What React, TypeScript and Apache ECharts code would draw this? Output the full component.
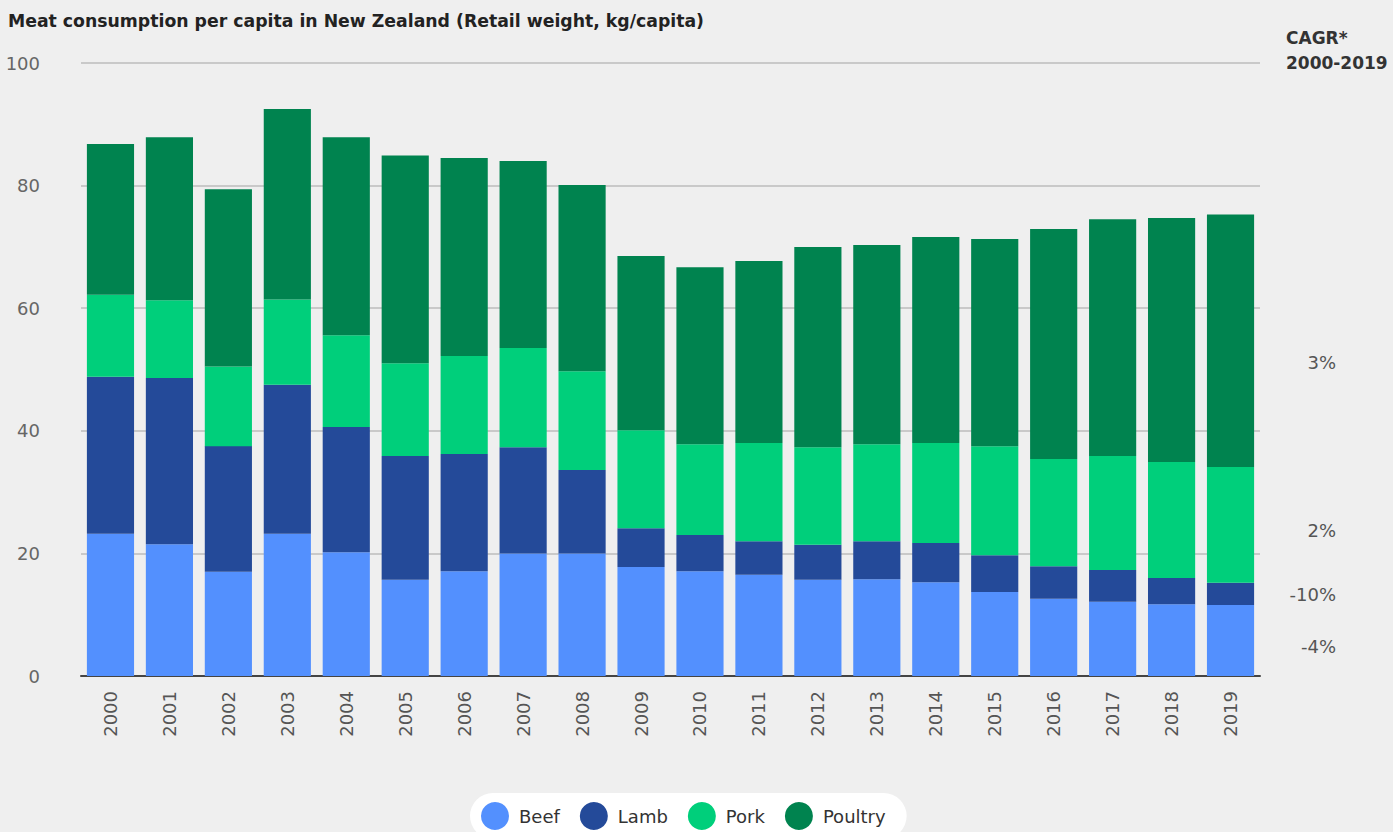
import React, { useEffect, useRef } from "react";
import * as echarts from "echarts";

const years = ["2000","2001","2002","2003","2004","2005","2006","2007","2008","2009","2010","2011","2012","2013","2014","2015","2016","2017","2018","2019"];
const beef = [23.2, 21.5, 17.0, 23.2, 20.2, 15.7, 17.1, 20.0, 20.0, 17.8, 17.1, 16.5, 15.7, 15.8, 15.3, 13.7, 12.6, 12.1, 11.7, 11.6];
const lamb = [25.6, 27.1, 20.5, 24.3, 20.4, 20.2, 19.1, 17.3, 13.6, 6.3, 5.9, 5.5, 5.7, 6.2, 6.4, 6.0, 5.3, 5.2, 4.3, 3.6];
const pork = [13.4, 12.7, 13.0, 13.9, 15.0, 15.1, 16.0, 16.2, 16.1, 16.0, 14.8, 16.0, 15.9, 15.8, 16.3, 17.8, 17.5, 18.6, 18.9, 18.9];
const poultry = [24.6, 26.6, 28.9, 31.1, 32.3, 33.9, 32.3, 30.5, 30.4, 28.4, 28.9, 29.7, 32.7, 32.5, 33.6, 33.8, 37.5, 38.6, 39.8, 41.2];
const seriesNames = ["Beef", "Lamb", "Pork", "Poultry"];
const cagrLabels = ["-4%", "-10%", "2%", "3%"];
const yTicks = [0, 20, 40, 60, 80, 100];

const colors = ["#5390fe", "#244a99", "#00cf7b", "#00834f"];
const FONT = "'DejaVu Sans', sans-serif";

export default function App() {
  const ref = useRef<HTMLDivElement>(null);
  useEffect(() => {
    if (!ref.current) return;
    const chart = echarts.init(ref.current, null, { renderer: "svg" });
    const data = [beef, lamb, pork, poultry];
    const cagrY = [646, 594, 530, 362];
    chart.setOption({
      animation: false,
      backgroundColor: "#efefef",
      textStyle: { fontFamily: FONT },
      grid: { left: 81, right: 133, top: 63, bottom: 156 },
      xAxis: {
        type: "category",
        data: years,
        axisLine: { show: true, lineStyle: { color: "#444", width: 2 } },
        axisTick: { show: false },
        axisLabel: { rotate: 90, color: "#555", fontSize: 18, margin: 15, fontFamily: FONT },
      },
      yAxis: {
        type: "value",
        min: yTicks[0],
        max: yTicks[yTicks.length - 1],
        interval: 20,
        axisLine: { show: false },
        axisTick: { show: false },
        axisLabel: { color: "#666", fontSize: 18, margin: 41, fontFamily: FONT },
        splitLine: { lineStyle: { color: "#c9c9c9", width: 2 } },
      },
      legend: {
        left: 470,
        top: 793,
        icon: "circle",
        itemWidth: 28,
        itemHeight: 28,
        itemGap: 20,
        backgroundColor: "#ffffff",
        borderRadius: 24,
        padding: [9, 21, 9, 11],
        textStyle: { color: "#333", fontSize: 18, fontFamily: FONT, padding: [0, 0, 0, 5] },
        data: seriesNames,
      },
      series: seriesNames.map((name, i) => ({
        name,
        type: "bar",
        stack: "total",
        barCategoryGap: "20%",
        itemStyle: { color: colors[i] },
        data: data[i],
      })),
      graphic: [
        {
          type: "text",
          left: 8,
          top: 12,
          style: { text: "Meat consumption per capita in New Zealand (Retail weight, kg/capita)", fill: "#222", font: `bold 17.3px ${FONT}` },
        },
        {
          type: "text",
          left: 1286,
          top: 25,
          style: { text: "CAGR*\n2000-2019", fill: "#333", font: `bold 17px ${FONT}`, lineHeight: 25 },
        },
        ...cagrLabels.map((t, i) => ({
          type: "text",
          x: 1336,
          y: cagrY[i],
          style: { text: t, fill: "#555", font: `18px ${FONT}`, align: "right", verticalAlign: "middle" },
        })),
      ],
    });
    return () => chart.dispose();
  }, []);
  return <div ref={ref} style={{ position: "fixed", left: 0, top: 0, width: 1393, height: 832 }} />;
}
